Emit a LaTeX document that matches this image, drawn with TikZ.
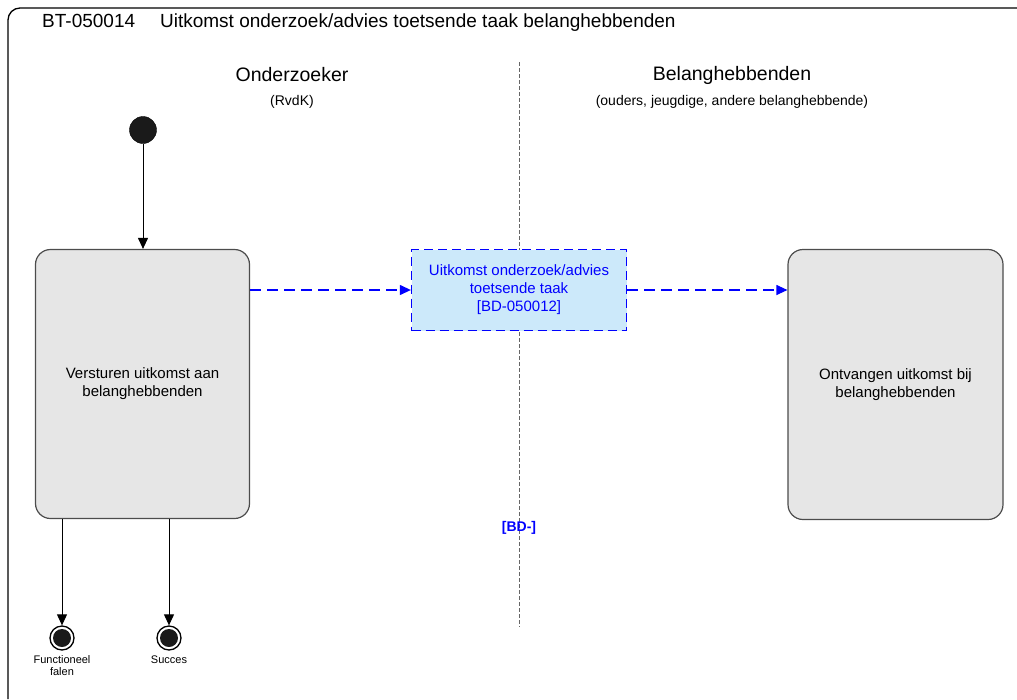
\documentclass[tikz,border=0pt]{standalone}
\usepackage{fontspec}
\setmainfont{Liberation Sans}
\usetikzlibrary{arrows.meta,positioning}
\definecolor{boxgray}{HTML}{E6E6E6}
\definecolor{taakblue}{HTML}{CCE9FA}
\definecolor{dotgray}{HTML}{1A1A1A}
\tikzset{
  activity/.style={draw=black!70,line width=1.2pt,fill=boxgray,rounded corners=15pt,
    align=center,font=\fontsize{15}{18}\selectfont},
  flow/.style={-{Triangle[length=11pt,width=10pt]},line width=1pt},
  msg/.style={flow,blue,line width=1.2pt,dash pattern=on 11pt off 6pt},
  eind/.style={circle,draw=black,line width=1.3pt,fill=white,minimum size=24pt,inner sep=0pt,
    path picture={\fill[dotgray] (path picture bounding box.center) circle (9pt);}},
  eindtekst/.style={align=center,inner sep=1pt,font=\fontsize{11}{12}\selectfont},
}
\begin{document}
\begin{tikzpicture}[x=1pt,y=-1pt]
  \useasboundingbox (0,0) rectangle (1017,699);
  \draw[line width=1.3pt,rounded corners=12pt] (8,699) -- (8,8) -- (1017,8);
  \node[anchor=base west,inner sep=0pt,font=\fontsize{19}{22}\selectfont] (titel) at (42,27)
    {BT-050014\hspace{25pt}Uitkomst onderzoek/advies toetsende taak belanghebbenden};

  % lanes
  \node[font=\fontsize{19.5}{22}\selectfont] (onderzoeker) at (292,75) {Onderzoeker};
  \node[font=\fontsize{14}{18}\selectfont] (rvdk) at (292,102) {(RvdK)};
  \node[font=\fontsize{19.5}{22}\selectfont] (belang) at (732,75) {Belanghebbenden};
  \node[font=\fontsize{14}{18}\selectfont] (ouders) at (732,102) {(ouders, jeugdige, andere belanghebbende)};
  \coordinate (lanetop) at (519,62);
  \coordinate (lanebot) at (519,627);
  \draw[black!60,line width=1pt,dash pattern=on 4pt off 2pt] (lanetop) -- (lanebot);

  \node[circle,fill=dotgray,draw=black,minimum size=27pt,inner sep=0pt] (start) at (143,130) {};
  \node[activity,minimum width=214pt,minimum height=269pt] (versturen) at (142.5,384)
    {Versturen uitkomst aan\\belanghebbenden};
  \node[draw=blue,fill=taakblue,line width=1.3pt,dash pattern=on 9pt off 5pt,text=blue,align=center,
    minimum width=215pt,minimum height=81pt,font=\fontsize{15}{18}\selectfont] (taak) at (519,290)
    {Uitkomst onderzoek/advies\\toetsende taak\\{[}BD-050012{]}};
  \node[activity,minimum width=215pt,minimum height=270pt] (ontvangen) at (895.5,384.5)
    {Ontvangen uitkomst bij\\belanghebbenden};
  \node[text=blue,font=\fontsize{14}{16}\selectfont\bfseries] (bd) at (519,528) {{[}BD-{]}};

  \node[eind] (falen) at (62,638) {};
  \node[eind] (succes) at (169,638) {};
  \node[eindtekst,below=4pt of falen] (falentekst) {Functioneel\\falen};
  \node[eindtekst,below=4pt of succes] (successtekst) {Succes};

  \draw[flow] (start) -- (start |- versturen.north);
  \draw[flow] (versturen.south -| falen) -- (falen);
  \draw[flow] (versturen.south -| succes) -- (succes);
  \draw[msg] (versturen.east |- taak.west) -- (taak.west);
  \draw[msg] (taak.east) -- (ontvangen.west |- taak.east);
\end{tikzpicture}
\end{document}
